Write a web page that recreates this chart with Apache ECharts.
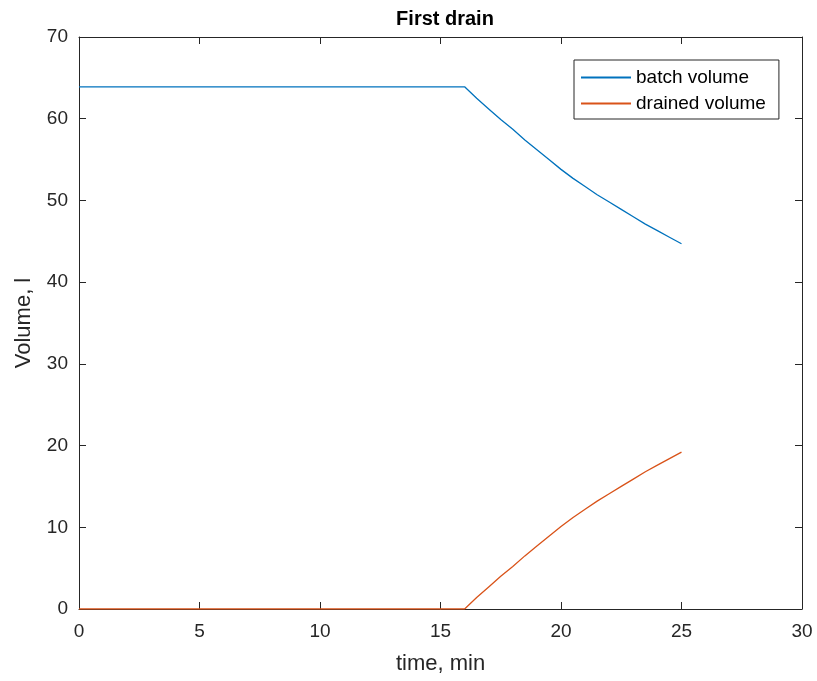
<!DOCTYPE html>
<html>
<head>
<meta charset="utf-8">
<script src="https://cdn.jsdelivr.net/npm/echarts@6/dist/echarts.min.js"></script>
<style>html,body{margin:0;padding:0;background:#fff;}#c{width:817px;height:681px;}</style>
</head>
<body>
<div id="c"></div>
<script>
var time = [0, 16, 16.5, 17, 17.5, 18, 18.5, 19, 19.5, 20, 20.5, 21, 21.5, 22, 22.5, 23, 23.5, 24, 24.5, 25];
var batchVolume = [63.9, 63.9, 62.5, 61.2, 59.9, 58.7, 57.4, 56.2, 55.0, 53.8, 52.7, 51.7, 50.7, 49.8, 48.9, 48.0, 47.1, 46.3, 45.5, 44.7];
var drainedVolume = [0, 0, 1.4, 2.7, 4.0, 5.2, 6.5, 7.7, 8.9, 10.1, 11.2, 12.2, 13.2, 14.1, 15.0, 15.9, 16.8, 17.6, 18.4, 19.2];
var xTicks = [0, 5, 10, 15, 20, 25, 30];
var yTicks = [0, 10, 20, 30, 40, 50, 60, 70];

function pairs(xs, ys) { return xs.map(function (x, i) { return [x, ys[i]]; }); }

var FONT = 'Liberation Sans';
var AX = '#262626';
var chart = echarts.init(document.getElementById('c'), null, {renderer: 'canvas'});
function axisBase() {
  return {
    axisLine: {show: true, onZero: false, lineStyle: {color: AX, width: 1}},
    axisTick: {show: true, inside: true, length: 7, lineStyle: {color: AX}},
    splitLine: {show: false}
  };
}
chart.setOption({
  backgroundColor: '#fff',
  animation: false,
  title: {
    text: 'First drain', left: 440, top: 4, textAlign: 'center',
    textStyle: {fontFamily: FONT, fontSize: 20, fontWeight: 'bold', color: '#000'}
  },
  legend: {
    orient: 'vertical', left: 574, top: 60,
    icon: 'rect', itemWidth: 50, itemHeight: 2, itemGap: 7,
    padding: [8, 13, 6, 7],
    borderColor: AX, borderWidth: 1, backgroundColor: '#fff',
    textStyle: {fontFamily: FONT, fontSize: 19, color: '#000'},
    data: ['batch volume', 'drained volume']
  },
  grid: {left: 79, right: 15, top: 37, bottom: 72, containLabel: false},
  xAxis: [
    Object.assign(axisBase(), {
      type: 'value', position: 'bottom', min: 0, max: 30, interval: 5,
      name: 'time, min', nameLocation: 'middle', nameGap: 44,
      nameTextStyle: {fontFamily: FONT, fontSize: 22, color: AX},
      axisLabel: {fontFamily: FONT, fontSize: 19, color: AX, margin: 13,
        formatter: function (v) { return xTicks.indexOf(v) >= 0 ? String(v) : ''; }}
    }),
    Object.assign(axisBase(), {
      type: 'value', position: 'top', min: 0, max: 30, interval: 5,
      axisLabel: {show: false}
    })
  ],
  yAxis: [
    Object.assign(axisBase(), {
      type: 'value', position: 'left', min: 0, max: 70, interval: 10,
      name: 'Volume, l', nameLocation: 'middle', nameGap: 44,
      nameTextStyle: {fontFamily: FONT, fontSize: 22, color: AX},
      axisLabel: {fontFamily: FONT, fontSize: 19, color: AX, margin: 11,
        formatter: function (v) { return yTicks.indexOf(v) >= 0 ? String(v) : ''; }}
    }),
    Object.assign(axisBase(), {
      type: 'value', position: 'right', min: 0, max: 70, interval: 10,
      axisLabel: {show: false}
    })
  ],
  series: [
    {name: 'batch volume', type: 'line', xAxisIndex: 0, yAxisIndex: 0,
      data: pairs(time, batchVolume), symbol: 'none',
      lineStyle: {color: '#0072BD', width: 1.3}, itemStyle: {color: '#0072BD'}},
    {name: 'drained volume', type: 'line', xAxisIndex: 0, yAxisIndex: 0,
      data: pairs(time, drainedVolume), symbol: 'none',
      lineStyle: {color: '#D95319', width: 1.3}, itemStyle: {color: '#D95319'}}
  ]
});
</script>
</body>
</html>
